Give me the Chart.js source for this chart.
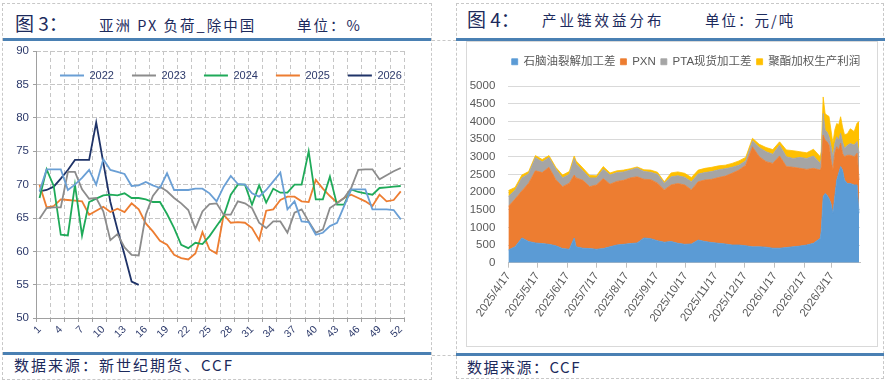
<!DOCTYPE html>
<html><head><meta charset="utf-8">
<script src="https://cdn.jsdelivr.net/npm/chart.js@4.4.1/dist/chart.umd.min.js"></script>
<style>
body{margin:0;width:885px;height:382px;position:relative;background:#fff;overflow:hidden;font-family:"Noto Sans CJK SC",sans-serif;color:#1c2a5c}
.abs{position:absolute}
.t{position:absolute;white-space:nowrap;line-height:1}
.dash{position:absolute;border:1px dashed #c8c8c8;box-sizing:border-box}
.hd{position:absolute;height:0;border-top:1px dashed #c8c8c8}
.bl{position:absolute;height:3px;background:#4a80b3}
</style></head><body>
<div class="dash" style="left:2px;top:3px;width:430px;height:377px"></div>
<div class="dash" style="left:456px;top:3px;width:428px;height:376px"></div>
<div class="hd" style="left:432px;top:40px;width:24px"></div>
<div class="hd" style="left:432px;top:355px;width:24px"></div>
<div class="bl" style="left:3px;top:38px;width:428px"></div>
<div class="bl" style="left:3px;top:352px;width:428px"></div>
<div class="bl" style="left:456px;top:38px;width:429px"></div>
<div class="bl" style="left:456px;top:353px;width:428px"></div>

<div class="t" style="left:15px;top:13px;font-size:19px">图 3：</div>
<div class="t" style="left:99px;top:18px;font-size:14.5px;letter-spacing:2px">亚洲 PX 负荷_除中国</div>
<div class="t" style="left:297px;top:18px;font-size:14.5px;letter-spacing:2px">单位：%</div>
<div class="t" style="left:467px;top:9px;font-size:19px">图 4：</div>
<div class="t" style="left:542px;top:13px;font-size:14.5px;letter-spacing:3px">产业链效益分布</div>
<div class="t" style="left:705px;top:13px;font-size:14.5px;letter-spacing:2px">单位：元/吨</div>
<div class="t" style="left:14px;top:357px;font-size:15px;letter-spacing:2px">数据来源：新世纪期货、CCF</div>
<div class="t" style="left:467px;top:359px;font-size:15px;letter-spacing:1.5px">数据来源：CCF</div>

<div id="g1" style="position:absolute;left:0;top:0;width:0;height:0"></div>
<div class="abs" style="left:3px;top:42px;width:428px;height:308px"><canvas id="c1"></canvas></div>
<div class="abs" style="left:466px;top:41px;width:410px;height:304px;border:1px solid #d9d9d9"><canvas id="c2"></canvas></div>

<script>
// ---------- Figure 3 data: Asia PX operating rate ex-China (%) ----------
const weeks = ['1','2','3','4','5','6','7','8','9','10','11','12','13','14','15','16','17','18','19','20','21','22','23','24','25','26','27','28','29','30','31','32','33','34','35','36','37','38','39','40','41','42','43','44','45','46','47','48','49','50','51','52'];
const y2022 = [69.0,72.3,72.3,72.3,69.2,70.0,71.0,72.2,70.0,73.8,72.2,71.9,71.6,69.8,69.9,70.4,69.9,69.5,71.7,69.2,69.2,69.2,69.4,69.4,68.7,67.5,69.7,71.3,70.1,70.0,68.7,68.2,69.2,70.5,71.8,66.3,67.5,64.5,64.4,62.5,62.8,63.8,64.3,66.8,69.3,69.3,69.3,66.3,66.3,66.3,66.2,64.8];
const y2023 = [64.9,66.5,66.6,66.6,71.9,71.9,69.3,67.9,68.0,66.0,61.7,62.6,60.6,59.5,59.4,65.5,68.3,69.7,69.0,68.0,67.2,66.2,63.4,66.0,67.1,67.2,65.5,65.5,67.5,67.2,66.5,64.3,63.5,64.5,64.5,62.8,65.8,66.3,64.5,62.8,63.3,66.5,67.2,68.0,69.5,72.2,72.3,72.3,70.8,71.4,72.0,72.5];
const y2024 = [68.0,72.3,69.8,62.5,62.4,70.0,62.4,67.4,67.9,68.4,68.5,68.4,68.7,68.0,68.0,67.8,67.4,67.4,65.6,63.5,61.0,60.5,61.3,61.1,62.3,63.8,65.3,68.5,70.0,70.0,67.0,69.9,67.3,69.4,68.8,68.8,70.0,70.0,75.0,67.8,67.8,71.2,67.0,67.0,69.3,68.9,68.7,68.5,69.5,69.6,69.7,69.8];
const y2025 = [70.0,66.6,66.8,67.8,67.7,67.6,67.5,65.5,66.1,66.7,65.9,66.4,65.9,67.2,66.3,64.2,63.0,61.6,61.0,59.5,59.0,58.8,59.7,62.9,60.3,59.7,65.5,64.3,64.4,64.3,63.5,61.7,66.1,66.3,67.7,68.2,68.2,67.5,67.4,70.7,69.4,68.3,67.3,68.0,68.5,68.0,67.5,66.8,68.5,67.5,67.7,69.0];
const y2026 = [69.0,69.2,69.7,70.9,72.2,73.7,73.7,73.7,79.3,73.3,67.4,63.3,59.5,55.5,55.0];
const yearNames = ['2022','2023','2024','2025','2026'];

// ---------- Figure 4 data: chain margin distribution (yuan/ton) ----------
const dates = ['2025/4/17','2025/4/24','2025/5/1','2025/5/8','2025/5/15','2025/5/22','2025/5/29','2025/6/5','2025/6/12','2025/6/19','2025/6/24','2025/6/26','2025/7/3','2025/7/10','2025/7/17','2025/7/24','2025/7/31','2025/8/7','2025/8/14','2025/8/21','2025/8/28','2025/9/4','2025/9/11','2025/9/18','2025/9/25','2025/10/2','2025/10/9','2025/10/16','2025/10/23','2025/10/30','2025/11/6','2025/11/13','2025/11/20','2025/11/27','2025/12/4','2025/12/11','2025/12/18','2025/12/25','2026/1/1','2026/1/8','2026/1/15','2026/1/22','2026/1/29','2026/2/5','2026/2/12','2026/2/19','2026/2/26','2026/3/5','2026/3/6','2026/3/8','2026/3/10','2026/3/12','2026/3/14','2026/3/16','2026/3/18','2026/3/20','2026/3/22','2026/3/24','2026/3/26','2026/3/28','2026/3/30','2026/4/2','2026/4/5','2026/4/9','2026/4/12','2026/4/14'];
const naphtha = [360,450,700,600,560,540,520,480,400,380,700,450,410,400,380,400,450,500,520,540,560,700,680,620,580,600,550,520,530,640,600,570,550,530,500,500,480,450,450,440,410,410,430,450,470,500,550,690,900,1870,1960,1910,1820,1680,1400,1870,2340,2530,2720,2620,2340,2240,2240,2200,2200,1400];
const pxn = [1230,1350,1330,1650,2040,2010,2180,1870,1750,1870,1780,1950,1920,1750,1820,1980,1770,1800,1810,1860,1870,1660,1670,1630,1480,1600,1690,1680,1530,1650,1740,1790,1860,1920,2030,2120,2280,2830,2550,2420,2400,2610,2290,2250,2200,2140,2120,1930,1800,1740,1510,1510,1510,1230,1220,1230,940,660,660,470,660,800,800,800,900,940];
const pta = [280,250,370,270,380,300,280,300,250,250,470,400,270,250,200,270,260,250,240,220,250,220,210,250,190,230,220,220,230,220,210,220,220,210,170,140,120,170,260,280,260,310,280,250,310,310,350,190,250,610,280,280,240,400,380,280,280,280,280,330,240,280,330,330,330,760];
const polyester = [170,80,80,60,50,70,50,50,80,80,70,80,80,70,60,70,60,50,50,40,30,50,60,60,40,110,110,110,120,110,120,120,110,100,110,120,100,70,90,120,130,90,190,220,160,160,190,190,200,470,470,470,570,450,380,380,380,430,470,420,380,330,420,380,520,890];
const seriesNames = ['石脑油裂解加工差','PXN','PTA现货加工差','聚酯加权生产利润'];
const xTickLabels = ['2025/4/17','2025/5/17','2025/6/17','2025/7/17','2025/8/17','2025/9/17','2025/10/17','2025/11/17','2025/12/17','2026/1/17','2026/2/17','2026/3/17'];
const axisEnd = '2026/4/15';

// ---------- helpers ----------
Chart.defaults.font.family = "'Liberation Sans','Noto Sans CJK SC',sans-serif";
const toUTC = s => { const [y, m, d] = s.split('/').map(Number); return Date.UTC(y, m - 1, d); };
const base = toUTC(dates[0]);
const dayOf = s => Math.round((toUTC(s) - base) / 86400000);
const xs = dates.map(dayOf);
const pts = arr => arr.map((v, i) => ({ x: xs[i], y: v }));
const tickDays = xTickLabels.map(dayOf);
const tickName = {}; xTickLabels.forEach((s, i) => { tickName[tickDays[i]] = s; });

function makeLegendPlace() {
  return {
    id: 'legendPlace',
    afterInit(chart, args, opts) {
      const lg = chart.legend; if (!lg) return;
      const fit = lg.fit;
      lg.fit = function () { fit.call(this); this.height = opts.reserve; };
    },
    beforeDraw(chart, args, opts) {
      const lg = chart.legend; if (!lg || !lg.lineWidths) return;
      const pad = lg.options.labels.padding;
      const lw = lg.lineWidths[0];
      lg.left = 0; lg.right = 2 * opts.startX - pad + lw; lg.width = lg.right;
      lg.top = opts.top; lg.height = 80; lg.bottom = opts.top + 80;
    }
  };
}

// dashed grid layer under figure 3's canvas, positioned from the chart's own scales
const gridLayer = {
  id: 'gridLayer',
  afterRender(chart) {
    const g = document.getElementById('g1');
    if (!g || !chart.chartArea) return;
    g.innerHTML = '';
    const r = chart.canvas.getBoundingClientRect();
    const a = chart.chartArea, x = chart.scales.x, y = chart.scales.y;
    const add = css => { const d = document.createElement('div'); d.style.cssText = 'position:absolute;' + css; g.appendChild(d); };
    y.ticks.forEach(t => {
      const py = Math.round(y.getPixelForValue(t.value) - 0.5);
      if (t.value !== y.min) add(`left:${r.left + a.left}px;top:${r.top + py}px;width:${a.right - a.left}px;height:1px;background:repeating-linear-gradient(to right,#c6c6c6 0 4px,rgba(255,255,255,0) 4px 7px)`);
      add(`left:${r.left + a.left - 3}px;top:${r.top + py}px;width:3px;height:1px;background:#a0a0a0`);
    });
    for (let k = 0; k <= x.ticks.length; k += 2) {
      const px = Math.round(x.getPixelForValue(k - 0.5) - 0.5);
      if (k > 0) add(`left:${r.left + px}px;top:${r.top + a.top}px;width:1px;height:${a.bottom - a.top}px;background:repeating-linear-gradient(to bottom,#c6c6c6 0 4px,rgba(255,255,255,0) 4px 7px)`);
      add(`left:${r.left + px}px;top:${r.top + a.bottom}px;width:1px;height:4px;background:#a0a0a0`);
    }
  }
};

// ---------- Figure 3 ----------
const navy = '#2d3a6b';
const lineColors = ['#6a9fd5', '#8c8c8c', '#1faa59', '#ed7d31', '#1f3368'];
const yearData = [y2022, y2023, y2024, y2025, y2026];
const chart3 = new Chart(document.getElementById('c1'), {
  type: 'line',
  data: {
    labels: weeks,
    datasets: yearData.map((d, i) => ({
      label: yearNames[i], data: d, borderColor: lineColors[i], backgroundColor: lineColors[i],
      borderWidth: 1.8, pointRadius: 0, tension: 0, fill: false
    }))
  },
  options: {
    responsive: true, maintainAspectRatio: false, animation: false, events: [], devicePixelRatio: 1,
    layout: { padding: { top: 9, right: 26.7, left: 0, bottom: 0 } },
    plugins: {
      legend: { position: 'top', labels: { usePointStyle: true, pointStyle: 'line', pointStyleWidth: 24, padding: 18, color: navy, font: { size: 11 } } },
      tooltip: { enabled: false },
      legendPlace: { reserve: 0, top: 10, startX: 57 }
    },
    scales: {
      x: {
        type: 'category', offset: true,
        grid: { offset: true, drawTicks: false, color: c => (c.index % 2 === 0 ? '#c6c6c6' : 'rgba(0,0,0,0)') },
        border: { color: '#a0a0a0', dash: [4, 3] },
        ticks: { autoSkip: false, minRotation: 45, maxRotation: 45, padding: 5, color: navy, font: { size: 10.5 },
          callback: (v, i) => (i % 3 === 0 ? weeks[i] : '') },
        afterFit: s => { s.height = 31.7; }
      },
      y: {
        min: 50, max: 90,
        ticks: { stepSize: 5, padding: 7, color: navy, font: { size: 11.5 } },
        grid: { drawTicks: false, color: '#c6c6c6' },
        border: { color: '#a0a0a0', dash: [4, 3] },
        afterFit: s => { s.width = 33; s.paddingTop = 0; s.paddingBottom = 0; }
      }
    }
  },
  plugins: [makeLegendPlace(), gridLayer]
});

// ---------- Figure 4 ----------
const areaColors = ['#5b9bd5', '#ed7d31', '#a5a5a5', '#ffc000'];
const areaData = [naphtha, pxn, pta, polyester];
const chart4 = new Chart(document.getElementById('c2'), {
  type: 'line',
  data: {
    datasets: areaData.map((d, i) => ({
      label: seriesNames[i], data: pts(d), backgroundColor: areaColors[i], borderColor: areaColors[i],
      borderWidth: 0.8, pointRadius: 0, tension: 0, fill: i === 0 ? 'origin' : '-1'
    }))
  },
  options: {
    responsive: true, maintainAspectRatio: false, animation: false, events: [], devicePixelRatio: 1,
    layout: { padding: { top: 0, right: 17, left: 0, bottom: 0 } },
    plugins: {
      legend: { position: 'top', labels: { boxWidth: 6, boxHeight: 6, padding: 5, color: '#595959',
        font: { size: 11.5, family: "'Liberation Sans','Noto Sans CJK SC',sans-serif" } } },
      tooltip: { enabled: false },
      legendPlace: { reserve: 44, top: 9, startX: 44.7 }
    },
    scales: {
      x: {
        type: 'linear', min: 0, max: dayOf(axisEnd),
        afterBuildTicks: s => { s.ticks = tickDays.map(v => ({ value: v })); },
        ticks: { autoSkip: false, minRotation: 55, maxRotation: 55, padding: 2, color: '#595959', font: { size: 11.5 },
          callback: v => (tickName[v] !== undefined ? tickName[v] : '') },
        grid: { drawOnChartArea: false, tickLength: 5, color: '#bfbfbf' },
        border: { color: '#bfbfbf' },
        afterFit: s => { s.height = 83.3; }
      },
      y: {
        stacked: true, min: 0, max: 5000,
        ticks: { stepSize: 500, padding: 13, color: '#595959', font: { size: 11.5 }, callback: v => String(v) },
        grid: { color: '#d9d9d9', drawTicks: false },
        border: { display: false },
        afterFit: s => { s.width = 41.3; }
      }
    }
  },
  plugins: [makeLegendPlace()]
});
</script>
</body></html>
